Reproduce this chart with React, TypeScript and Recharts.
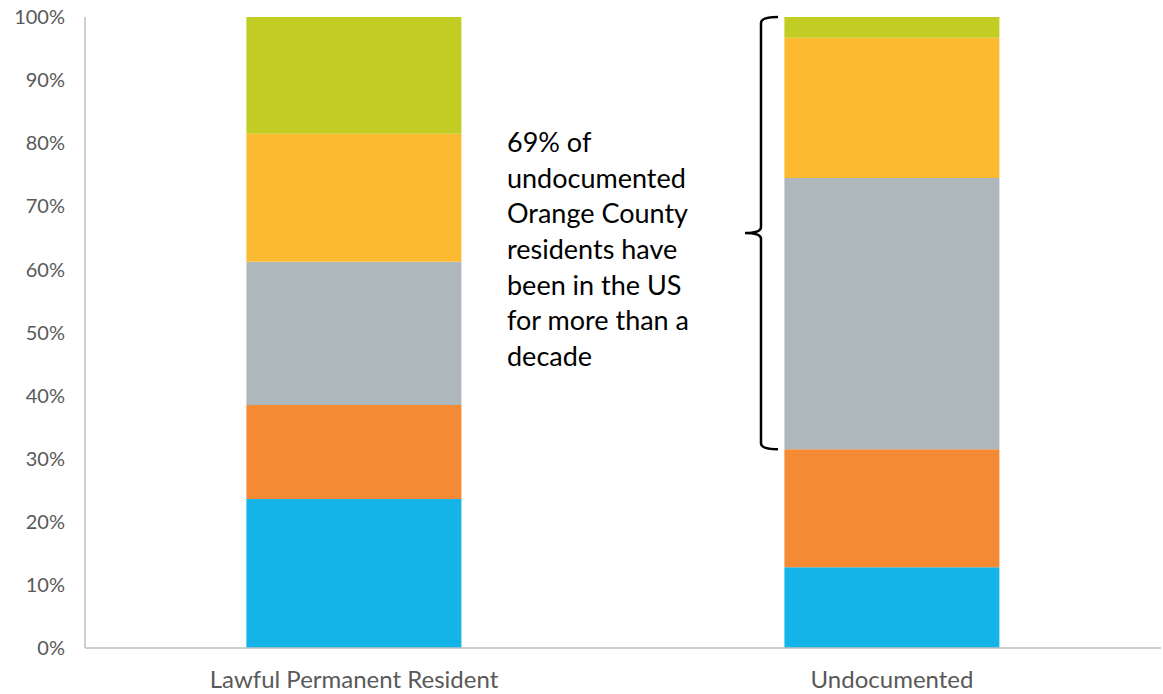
import { BarChart, Bar, XAxis, YAxis, ReferenceArea } from 'recharts'

const categories = ['Lawful Permanent Resident', 'Undocumented']
// share of residents by segment, bottom to top (percent)
const seg1 = [23.6, 12.8]
const seg2 = [14.9, 18.7]
const seg3 = [22.7, 43.0]
const seg4 = [20.3, 22.2]
const seg5 = [18.5, 3.3]
const yTicks = [0, 10, 20, 30, 40, 50, 60, 70, 80, 90, 100]

const noteLines = [
  '69% of',
  'undocumented',
  'Orange County',
  'residents have',
  'been in the US',
  'for more than a',
  'decade',
]
const braceFrom = 31.5
const braceTo = 100

const colors = ['#14b4e8', '#f48a33', '#adb7bc', '#fcba30', '#c2cd23']
const keys = ['s1', 's2', 's3', 's4', 's5']

const data = categories.map((name, i) => ({
  name,
  s1: seg1[i],
  s2: seg2[i],
  s3: seg3[i],
  s4: seg4[i],
  s5: seg5[i],
}))

const FONT = 'Lato, "Open Sans", sans-serif'

function Brace(props: any) {
  const { x, y, width, height } = props
  const center = x + width / 2
  const barLeft = center - 107
  const right = barLeft - 7
  const vx = barLeft - 24
  const tip = barLeft - 40
  const top = y
  const bottom = y + height
  const mid = (top + bottom) / 2
  const r = 6
  const d = [
    `M ${right} ${top}`,
    `Q ${vx} ${top} ${vx} ${top + r}`,
    `L ${vx} ${mid - r}`,
    `Q ${vx} ${mid} ${tip} ${mid}`,
    `Q ${vx} ${mid} ${vx} ${mid + r}`,
    `L ${vx} ${bottom - r}`,
    `Q ${vx} ${bottom} ${right} ${bottom}`,
  ].join(' ')
  return (
    <g>
      <path d={d} fill="none" stroke="#000" strokeWidth={2.5} />
      <text x={tip - 238} y={mid - 81} fontFamily={FONT} fontSize={27} fill="#000">
        {noteLines.map((l, i) => (
          <tspan key={i} x={tip - 238} y={mid - 81 + i * 35.6}>
            {l}
          </tspan>
        ))}
      </text>
    </g>
  )
}

export default function App() {
  return (
    <div style={{ position: 'absolute', left: 0, top: 0, width: 1163, height: 694, background: '#fff' }}>
      <BarChart
        width={1163}
        height={694}
        data={data}
        margin={{ top: 17, right: 2, bottom: 0, left: 0 }}
        barCategoryGap="30%"
      >
        <XAxis
          dataKey="name"
          axisLine={{ stroke: '#bfbfbf', strokeWidth: 1.5 }}
          tickLine={false}
          tickSize={0}
          tickMargin={23}
          height={46}
          tick={{ fill: '#595959', fontSize: 24, fontFamily: FONT }}
          interval={0}
        />
        <YAxis
          domain={[0, 100]}
          ticks={yTicks}
          tickFormatter={(v) => `${v}%`}
          axisLine={{ stroke: '#bfbfbf', strokeWidth: 1.5 }}
          tickLine={false}
          tickSize={0}
          tickMargin={20}
          width={85}
          tick={{ fill: '#595959', fontSize: 20, fontFamily: FONT }}
        />
        {keys.map((k, i) => (
          <Bar key={k} dataKey={k} stackId="a" fill={colors[i]} isAnimationActive={false} />
        ))}
        <ReferenceArea
          x1="Undocumented"
          x2="Undocumented"
          y1={braceFrom}
          y2={braceTo}
          shape={<Brace />}
          ifOverflow="visible"
        />
      </BarChart>
    </div>
  )
}
